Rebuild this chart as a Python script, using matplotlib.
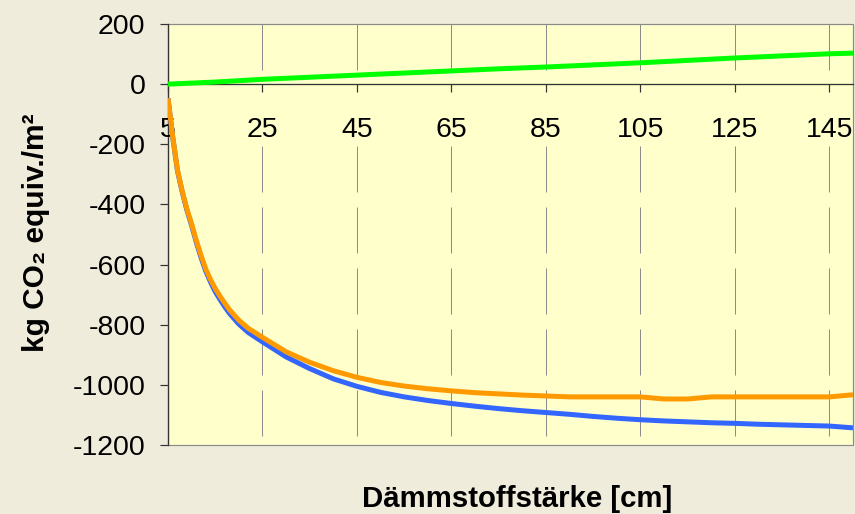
import matplotlib
matplotlib.use("Agg")
import matplotlib.pyplot as plt
from matplotlib.patches import Rectangle

plt.rcParams['font.family'] = ['Liberation Sans', 'DejaVu Sans']
plt.rcParams['lines.scale_dashes'] = False

# ---- data ----
x_decay = [5, 6, 7, 8, 9, 10, 11, 12, 13, 14, 15, 16, 17, 18, 20, 22, 25, 30, 35, 40,
           45, 50, 55, 60, 65, 70, 75, 80, 85, 90, 95, 100, 105, 110, 115, 120, 125,
           130, 135, 140, 145, 150]
orange_vals = [-47, -175, -285, -355, -415, -465, -520, -570, -615, -650, -680, -705,
               -728, -750, -785, -812, -842, -890, -925, -953, -975, -992, -1004, -1013,
               -1020, -1026, -1030, -1034, -1037, -1040, -1040, -1040, -1040, -1047,
               -1047, -1040, -1040, -1040, -1040, -1040, -1040, -1033]
blue_vals = [-47, -177, -288, -358, -419, -470, -526, -577, -622, -658, -690, -716,
             -740, -762, -798, -826, -857, -907, -946, -980, -1005, -1025, -1040, -1052,
             -1062, -1071, -1079, -1086, -1092, -1098, -1105, -1111, -1116, -1120,
             -1123, -1126, -1128, -1131, -1133, -1135, -1137, -1143]
x_green = [5, 15, 25, 35, 45, 55, 65, 75, 85, 95, 105, 115, 125, 135, 145, 150]
green_vals = [0, 7, 16, 23, 30, 37, 44, 51, 57, 64, 71, 79, 87, 94, 101, 103]

xtick_values = [5, 25, 45, 65, 85, 105, 125, 145]
xtick_labels = [str(v) for v in xtick_values]
ytick_values = [-1200, -1000, -800, -600, -400, -200, 0, 200]
ytick_labels = [str(v) for v in ytick_values]
x_title = "Dämmstoffstärke [cm]"
y_title = "kg CO₂ equiv./m²"

# ---- style ----
fig_bg = '#F0ECDC'
plot_bg = '#FFFFCC'
c_green = '#00FF00'
c_orange = '#FF9900'
c_blue = '#3366FF'
grid_c = '#8C8C8C'
axis_c = '#333333'
PX = 72 / 100.0  # points per pixel
TICK_FS = 20.5

W, H = 855, 514
fig = plt.figure(figsize=(W / 100, H / 100), dpi=100, facecolor=fig_bg)
left, right, top, bottom = 168, 853, 24, 445
ax = fig.add_axes([left / W, 1 - bottom / H, (right - left) / W, (bottom - top) / H])
ax.set_facecolor(plot_bg)
ax.set_xlim(5, 150)
ax.set_ylim(-1200, 200)

ymin, ymax = ax.get_ylim()
units_per_px = (ymax - ymin) / (bottom - top)
band_bottom = 0 - 62 * units_per_px  # lower edge of the tick-label band

dash = (0, (46 * PX, 15 * PX))
for xv in xtick_values[1:]:
    ax.plot([xv, xv], [ymax, 0], color=grid_c, lw=1 * PX, linestyle=dash, zorder=1)
    ax.plot([xv, xv], [band_bottom, ymin], color=grid_c, lw=1 * PX, linestyle=dash, zorder=1)

# frame
ax.add_patch(Rectangle((0, 0), 1, 1, transform=ax.transAxes, fill=False,
                       edgecolor='#8A8A8A', lw=1.2 * PX, zorder=2.4, clip_on=False))
ax.spines['top'].set_visible(False)
ax.spines['right'].set_visible(False)
ax.spines['bottom'].set_position(('data', 0))
for s in ('left', 'bottom'):
    ax.spines[s].set_color(axis_c)
    ax.spines[s].set_linewidth(1.3 * PX)
    ax.spines[s].set_zorder(2.5)

ax.set_xticks(xtick_values)
ax.tick_params(axis='x', direction='out', length=8 * PX, width=1.2 * PX,
               color=axis_c, labelbottom=False)
ax.set_yticks(ytick_values)
ax.set_yticklabels(ytick_labels)
ax.tick_params(axis='y', direction='out', length=8 * PX, width=1.2 * PX,
               color=axis_c, labelsize=TICK_FS, pad=10.5)

for xv, lbl in zip(xtick_values, xtick_labels):
    ax.annotate(lbl, xy=(xv, 0), xycoords='data', xytext=(0, -53 * PX),
                textcoords='offset points', ha='center', va='baseline', fontsize=TICK_FS,
                zorder=2.6, annotation_clip=False)

lw = 5 * PX
ax.plot(x_green, green_vals, color=c_green, lw=lw, zorder=3, solid_capstyle='butt')
ax.plot(x_decay, blue_vals, color=c_blue, lw=lw, zorder=3, solid_capstyle='butt')
ax.plot(x_decay, orange_vals, color=c_orange, lw=lw, zorder=3.1, solid_capstyle='butt')

fig.text(517 / W, 1 - 507 / H, x_title, ha='center', va='baseline',
         fontsize=21.2, fontweight='bold')
fig.text(36 / W, 1 - 233 / H, y_title, ha='center', va='center', rotation=90,
         fontsize=21.5, fontweight='bold')

fig.savefig('out.png', dpi=100, facecolor=fig_bg)
